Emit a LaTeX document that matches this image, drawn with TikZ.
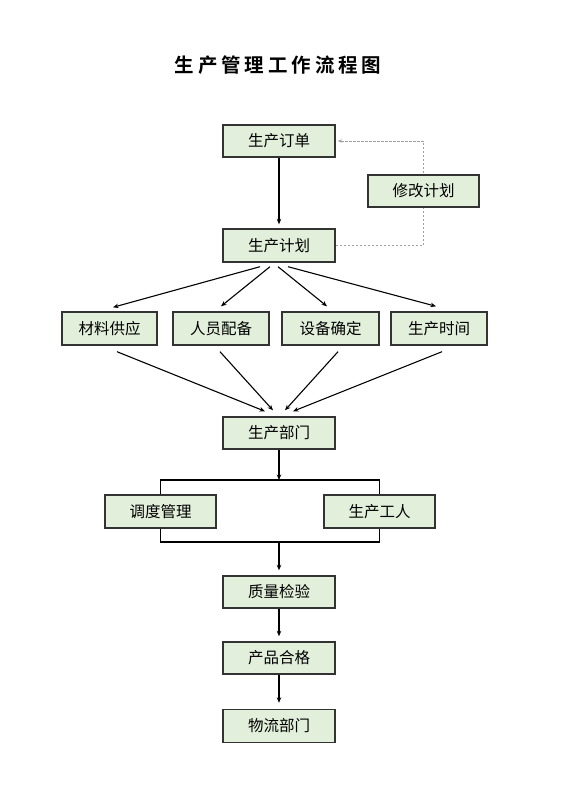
\documentclass[tikz,border=0pt]{standalone}
\usepackage{fontspec}
\newfontfamily\cjk{Noto Sans CJK SC}
\newfontfamily\titlefont[LetterSpace=20]{Noto Sans CJK SC Bold}
\usetikzlibrary{arrows.meta,backgrounds,calc}
\definecolor{boxfill}{HTML}{E2EFDA}
\definecolor{boxline}{HTML}{333333}
\definecolor{dashgray}{HTML}{A0A0A0}
\tikzset{
  stepbox/.style={draw=boxline, fill=boxfill, line width=1.4pt, minimum height=32pt, inner sep=0pt, font=\cjk\fontsize{15.5}{17}\selectfont},
  arr/.style={line width=1.1pt, -{Stealth[length=5.5pt,width=4.5pt]}},
  plainline/.style={line width=1.1pt},
  fback/.style={draw=dashgray, line width=0.9pt, dash pattern=on 2.5pt off 1.5pt, -{Stealth[length=4.5pt,width=3.5pt]}}
}
\begin{document}
\begin{tikzpicture}[x=1pt,y=-1pt]
\useasboundingbox (0,0) rectangle (560,792);
\node[font=\titlefont\fontsize{19.5}{21}\selectfont] (title) at (278,65) {生产管理工作流程图};

\node[stepbox, minimum width=112pt] (order) at (279,141) {生产订单};
\node[stepbox, minimum width=111pt] (modify) at (423.5,191) {修改计划};
\node[stepbox, minimum width=112pt, minimum height=33pt] (plan) at (279,245.5) {生产计划};

\node[stepbox, minimum width=95pt, minimum height=33pt] (mat) at (109.5,328.5) {材料供应};
\node[stepbox, minimum width=96pt, minimum height=33pt] (staff) at (221,328.5) {人员配备};
\node[stepbox, minimum width=97pt, minimum height=33pt] (equip) at (330.5,328.5) {设备确定};
\node[stepbox, minimum width=96pt, minimum height=33pt] (time) at (439,328.5) {生产时间};

\node[stepbox, minimum width=112pt] (dept) at (279,433) {生产部门};
\node[stepbox, minimum width=111pt, minimum height=33pt] (sched) at (160.5,511.5) {调度管理};
\node[stepbox, minimum width=111pt, minimum height=33pt] (worker) at (379.5,511.5) {生产工人};

\node[stepbox, minimum width=112pt] (qc) at (279,592) {质量检验};
\node[stepbox, minimum width=112pt] (pass) at (279,658) {产品合格};
\node[stepbox, minimum width=112pt, minimum height=33pt] (logi) at (279,726) {物流部门};

\coordinate (top) at (279,480);
\coordinate (bot) at (279,542);

% feedback loop
\begin{scope}[on background layer]
\draw[fback, shorten >=2pt] (plan.east) -| (modify.center) |- (order.east);
\end{scope}

\draw[arr, shorten >=4pt] (order.south) -- (plan.north);

% fan out
\draw[arr] ([xshift=-19pt,yshift=-4pt]plan.south) -- ([xshift=3.5pt,yshift=4pt]mat.north);
\draw[arr] ([xshift=-9pt,yshift=-4pt]plan.south) -- ([xshift=0pt,yshift=5pt]staff.north);
\draw[arr] ([xshift=-1pt,yshift=-4pt]plan.south) -- ([xshift=-3.5pt,yshift=5pt]equip.north);
\draw[arr] ([xshift=9pt,yshift=-4pt]plan.south) -- ([xshift=-3pt,yshift=5pt]time.north);

% fan in
\draw[arr] ([xshift=7.5pt,yshift=-6pt]mat.south) -- ([xshift=-14pt,yshift=5pt]dept.north);
\draw[arr] ([xshift=-1pt,yshift=-6pt]staff.south) -- ([xshift=-6pt,yshift=6pt]dept.north);
\draw[arr] ([xshift=7.5pt,yshift=-6pt]equip.south) -- ([xshift=6pt,yshift=6pt]dept.north);
\draw[arr] ([xshift=3pt,yshift=-6pt]time.south) -- ([xshift=14pt,yshift=5pt]dept.north);

% bracket
\draw[arr] (dept.south) -- (top);
\draw[plainline] (sched.north) -- (sched.north |- top) -- (worker.north |- top) -- (worker.north);
\draw[plainline] (sched.south) -- (sched.south |- bot) -- (worker.south |- bot) -- (worker.south);
\draw[arr, shorten >=5pt] (bot) -- (qc.north);

\draw[arr, shorten >=5pt] (qc.south) -- (pass.north);
\draw[arr, shorten >=6pt] (pass.south) -- (logi.north);
\end{tikzpicture}
\end{document}
